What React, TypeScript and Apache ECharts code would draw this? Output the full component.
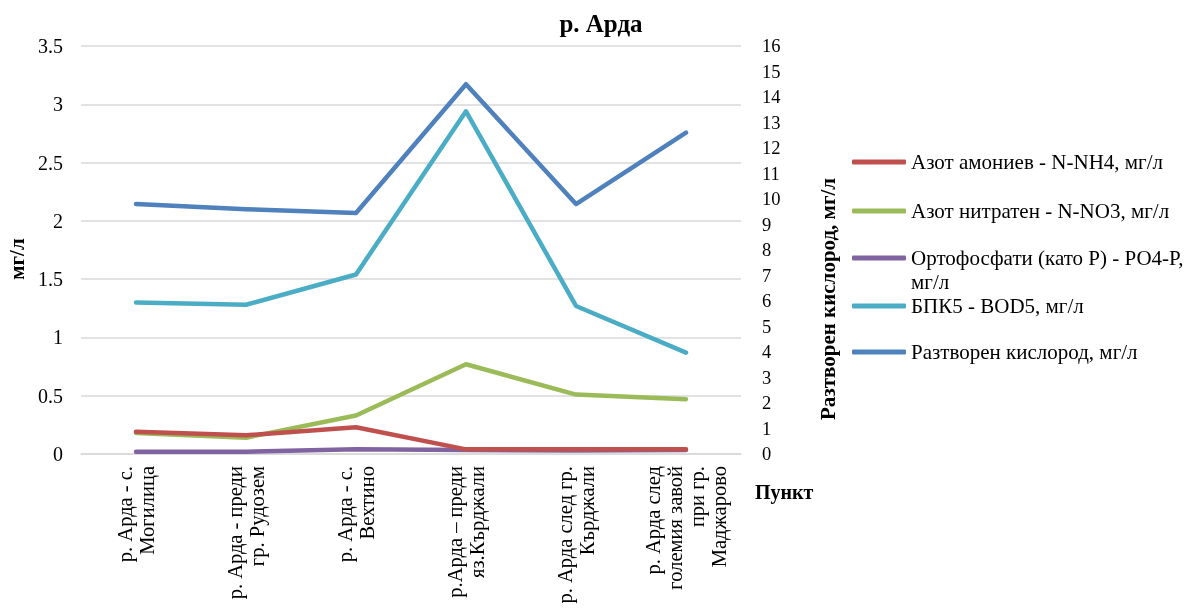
import React, { useEffect, useRef } from "react";
import * as echarts from "echarts";

const categories = [
  "р. Арда - с.\nМогилица",
  "р. Арда - преди\nгр. Рудозем",
  "р. Арда - с.\nВехтино",
  "р.Арда – преди\nяз.Кърджали",
  "р. Арда след гр.\nКърджали",
  "р. Арда след\nголемия завой\nпри гр.\nМаджарово",
];

const ammonium = [0.19, 0.16, 0.23, 0.04, 0.04, 0.04];
const nitrate = [0.18, 0.14, 0.33, 0.77, 0.51, 0.47];
const phosphate = [0.02, 0.02, 0.04, 0.035, 0.03, 0.035];
const bod5 = [1.3, 1.28, 1.54, 2.94, 1.27, 0.87];
const oxygen = [9.8, 9.6, 9.45, 14.5, 9.8, 12.6];

const leftTicks = { min: 0, max: 3.5, interval: 0.5 };
const rightTicks = { min: 0, max: 16, interval: 1 };

const names = [
  "Азот амониев - N-NH4, мг/л",
  "Азот нитратен - N-NO3, мг/л",
  "Ортофосфати (като Р) - РО4-Р, мг/л",
  "БПК5 - BOD5, мг/л",
  "Разтворен кислород, мг/л",
];
const colors = ["#C0504D", "#9BBB59", "#8064A2", "#4BACC6", "#4F81BD"];

const FONT = "Liberation Serif";

export default function App() {
  const ref = useRef<HTMLDivElement>(null);
  useEffect(() => {
    if (!ref.current) return;
    const chart = echarts.init(ref.current, null, { renderer: "svg" });
    const dataSets = [ammonium, nitrate, phosphate, bod5, oxygen];
    const legendCenters = [162, 211, 258, 306, 352];
    const option: any = {
      animation: false,
      textStyle: { fontFamily: FONT },
      title: {
        text: "р. Арда",
        left: 601,
        top: 11,
        padding: 0,
        textAlign: "center",
        textStyle: { fontFamily: FONT, fontSize: 25, fontWeight: "bold", color: "#000" },
      },
      grid: { left: 81, right: 458, top: 46, bottom: 159 },
      legend: names.map((n, i) => ({
        data: [n],
        left: 852,
        top: legendCenters[i] - 11,
        padding: 0,
        icon: "roundRect",
        itemWidth: 54,
        itemHeight: 5,
        formatter: i === 2 ? () => "Ортофосфати (като Р) - РО4-Р," : undefined,
        textStyle: { fontFamily: FONT, fontSize: 21, lineHeight: 22, color: "#000" },
        selectedMode: false,
      })),
      xAxis: {
        type: "category",
        data: categories,
        boundaryGap: true,
        axisLine: { show: true, lineStyle: { color: "#d9d9d9", width: 1.5 } },
        axisTick: { show: false },
        axisLabel: {
          interval: 0,
          rotate: 90,
          margin: 12,
          fontFamily: FONT,
          fontSize: 20.5,
          lineHeight: 22,
          color: "#000",
        },
      },
      yAxis: [
        {
          type: "value",
          ...leftTicks,
          axisLine: { show: false },
          axisTick: { show: false },
          splitLine: { lineStyle: { color: "#d9d9d9", width: 1.5 } },
          axisLabel: { fontFamily: FONT, fontSize: 20, color: "#000", margin: 18 },
        },
        {
          type: "value",
          position: "right",
          ...rightTicks,
          axisLine: { show: false },
          axisTick: { show: false },
          splitLine: { show: false },
          axisLabel: { fontFamily: FONT, fontSize: 18.5, color: "#000", margin: 21 },
        },
      ],
      series: names.map((n, i) => ({
        name: n,
        type: "line",
        yAxisIndex: i === 4 ? 1 : 0,
        data: dataSets[i],
        symbol: "none",
        color: colors[i],
        lineStyle: { width: 4.5, color: colors[i], cap: "round", join: "round" },
        z: 10 - i,
      })),
      graphic: [
        {
          type: "text",
          x: 17,
          y: 259,
          rotation: Math.PI / 2,
          style: {
            text: "мг/л",
            fontFamily: FONT,
            fontSize: 21,
            fontWeight: "bold",
            fill: "#000",
            align: "center",
            verticalAlign: "middle",
          },
        },
        {
          type: "text",
          x: 828,
          y: 299,
          rotation: Math.PI / 2,
          style: {
            text: "Разтворен кислород, мг/л",
            fontFamily: FONT,
            fontSize: 21,
            fontWeight: "bold",
            fill: "#000",
            align: "center",
            verticalAlign: "middle",
          },
        },
        {
          type: "text",
          x: 755,
          y: 492,
          style: {
            text: "Пункт",
            fontFamily: FONT,
            fontSize: 20,
            fontWeight: "bold",
            fill: "#000",
            align: "left",
            verticalAlign: "middle",
          },
        },
        {
          type: "text",
          x: 911,
          y: 282,
          style: {
            text: "мг/л",
            fontFamily: FONT,
            fontSize: 21,
            fill: "#000",
            align: "left",
            verticalAlign: "middle",
          },
        },
      ],
    };
    chart.setOption(option);
    return () => chart.dispose();
  }, []);
  return (
    <div
      ref={ref}
      style={{ position: "fixed", left: 0, top: 0, width: 1199, height: 613 }}
    />
  );
}
